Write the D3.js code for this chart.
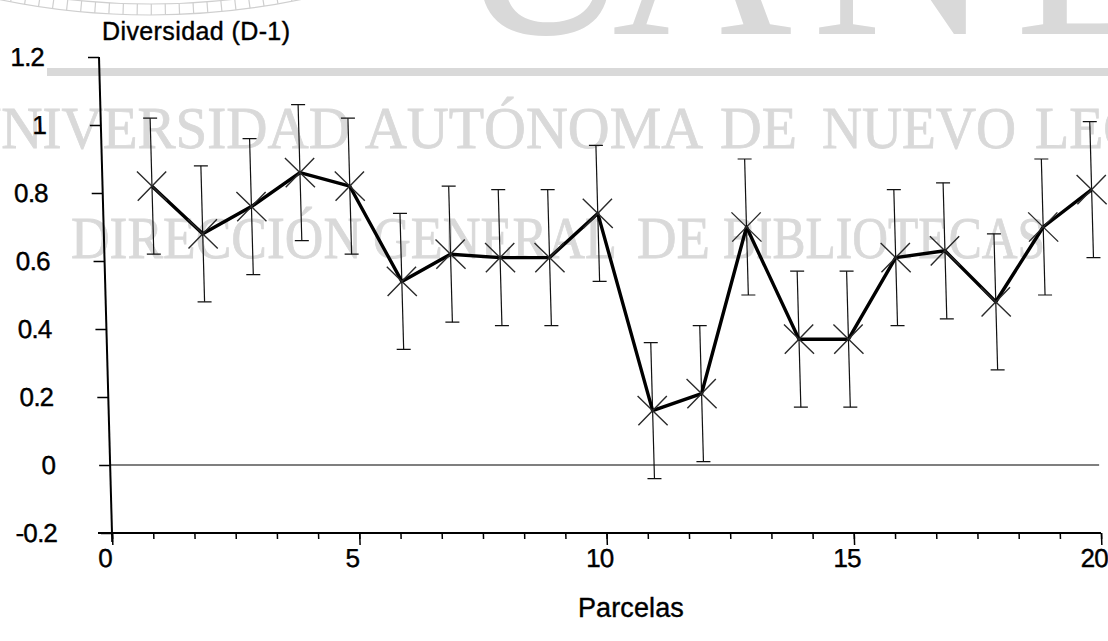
<!DOCTYPE html>
<html><head><meta charset="utf-8">
<script src="https://cdn.jsdelivr.net/npm/d3@7"></script>
<style>html,body{margin:0;padding:0;background:#fff;overflow:hidden}</style>
</head><body><svg id="c" width="1108" height="641"></svg>
<script>
// ---- data ----
const parcelas   = [1,2,3,4,5,6,7,8,9,10,11,12,13,14,15,16,17,18,19,20];
const diversidad = [0.82,0.68,0.76,0.86,0.82,0.54,0.62,0.61,0.61,0.74,0.16,0.21,0.70,0.37,0.37,0.61,0.63,0.48,0.70,0.81];
const errorEst   = [0.20,0.20,0.20,0.20,0.20,0.20,0.20,0.20,0.20,0.20,0.20,0.20,0.20,0.20,0.20,0.20,0.20,0.20,0.20,0.20];
const xTicks = [0,5,10,15,20];
const xTickLabels = ["0","5","10","15","20"];
const yTicks = [-0.2,0,0.2,0.4,0.6,0.8,1,1.2];
const yTickLabels = ["-0.2","0","0.2","0.4","0.6","0.8","1","1.2"];
const yTitle = "Diversidad (D-1)";
const xTitle = "Parcelas";
const wmLine1 = ["UNIVERSIDAD","AUTÓNOMA","DE","NUEVO","LEÓN"];
const wmLine2 = ["DIRECCIÓN","GENERAL","DE","BIBLIOTECAS"];
const wmBig = ["U","A","N","L"];

const svg = d3.select("#c");
const W = 1108, H = 641;

// ---- watermark (scan background) ----
const grey = "#d9d9d9";
const serif = "'Liberation Serif','Times New Roman',serif";
const wm = svg.append("g");
// seal ring at top-left
const sealC = [150, -722];
const seal = wm.append("g").attr("fill","none").attr("stroke","#cfcfcf").attr("stroke-width",1.2);
seal.append("circle").attr("cx",sealC[0]).attr("cy",sealC[1]).attr("r",737);
seal.append("circle").attr("cx",sealC[0]).attr("cy",sealC[1]).attr("r",726);
seal.selectAll("line").data(d3.range(-12,12.1,1.1)).join("line")
  .attr("x1",a=>sealC[0]+726*Math.sin(a*Math.PI/180)).attr("y1",a=>sealC[1]+726*Math.cos(a*Math.PI/180))
  .attr("x2",a=>sealC[0]+737*Math.sin(a*Math.PI/180)).attr("y2",a=>sealC[1]+737*Math.cos(a*Math.PI/180));
// big letters
const bigX = [455,612,812,1015];
wm.selectAll("text.big").data(wmBig).join("text").attr("class","big")
  .attr("x",(d,i)=>bigX[i]).attr("y",34)
  .attr("font-family",serif).attr("font-size",250)
  .attr("fill",grey).text(d=>d);
// band
wm.append("rect").attr("x",47).attr("y",68).attr("width",W-47).attr("height",8).attr("fill",grey);
// text lines
const l1x = [-40,365,720,822,1035], l1w = [390,338,77,194,149];
const l2x = [71,373,637,723], l2w = [291,244,73,322];
wm.selectAll("text.l1").data(wmLine1).join("text").attr("class","l1")
  .attr("x",(d,i)=>l1x[i]).attr("y",148).attr("textLength",(d,i)=>l1w[i]).attr("lengthAdjust","spacingAndGlyphs")
  .attr("font-family",serif).attr("font-size",60)
  .attr("fill",grey).attr("stroke",grey).attr("stroke-width",0.8).text(d=>d);
wm.selectAll("text.l2").data(wmLine2).join("text").attr("class","l2")
  .attr("x",(d,i)=>l2x[i]).attr("y",258).attr("textLength",(d,i)=>l2w[i]).attr("lengthAdjust","spacingAndGlyphs")
  .attr("font-family",serif).attr("font-size",60)
  .attr("fill",grey).attr("stroke",grey).attr("stroke-width",0.8).text(d=>d);

// ---- chart ----
const x = d3.scaleLinear().domain([0,20]).range([112,1101]);
const y = d3.scaleLinear().domain([-0.2,1.2]).range([533,57]);
const font = "'Liberation Sans',Arial,sans-serif";

// slight shear of the scanned page
const g = svg.append("g").attr("transform","translate(0,533) skewX(1.565) translate(0,-533)");

// zero line
g.append("line").attr("x1",x(0)).attr("x2",x(20)).attr("y1",y(0)).attr("y2",y(0))
  .attr("stroke","#555").attr("stroke-width",1.5);

// y axis
const yAxis = d3.axisLeft(y).tickValues(yTicks).tickSize(11).tickSizeOuter(0)
  .tickFormat((d,i)=>yTickLabels[i]).tickPadding(44);
const ya = g.append("g").attr("transform",`translate(${x(0)},0)`).call(yAxis);
ya.select(".domain").remove();
ya.append("line").attr("x1",0).attr("x2",0).attr("y1",y(1.2)).attr("y2",y(-0.2)+9).attr("stroke","#000").attr("stroke-width",2);
ya.selectAll(".tick line").attr("stroke","#000").attr("stroke-width",1.5);
ya.selectAll(".tick text").attr("font-family",font).attr("font-size",26).attr("fill","#000")
  .attr("stroke","#000").attr("stroke-width",0.4).attr("letter-spacing",-0.8);

// x axis
const xMinor = d3.range(0, 20.001, 5/6);
const xa = g.append("g").attr("transform",`translate(0,${y(-0.2)})`);
xa.append("line").attr("x1",x(0)-14).attr("x2",x(20)).attr("y1",0).attr("y2",0).attr("stroke","#000").attr("stroke-width",2);
xa.call(d3.axisBottom(x).tickValues(xMinor).tickSize(6).tickFormat(""))
  .call(s=>s.select(".domain").remove());
xa.selectAll(".tick line").attr("stroke","#000").attr("stroke-width",1.5);
const xMaj = g.append("g").attr("transform",`translate(0,${y(-0.2)})`)
  .call(d3.axisBottom(x).tickValues(xTicks).tickSize(12).tickFormat((d,i)=>xTickLabels[i]).tickPadding(4));
xMaj.select(".domain").remove();
xMaj.selectAll(".tick line").attr("stroke","#000").attr("stroke-width",1.5);
xMaj.selectAll(".tick text").attr("font-family",font).attr("font-size",26).attr("fill","#000")
  .attr("stroke","#000").attr("stroke-width",0.4).attr("letter-spacing",-0.8).attr("dx",-8);

// error bars
const eb = g.append("g").attr("stroke","#111").attr("stroke-width",1.2);
eb.selectAll("line.v").data(parcelas).join("line").attr("class","v")
  .attr("x1",d=>x(d)).attr("x2",d=>x(d))
  .attr("y1",(d,i)=>y(diversidad[i]+errorEst[i])).attr("y2",(d,i)=>y(diversidad[i]-errorEst[i]));
eb.selectAll("line.t").data(parcelas).join("line").attr("class","t")
  .attr("x1",d=>x(d)-7).attr("x2",d=>x(d)+7)
  .attr("y1",(d,i)=>y(diversidad[i]+errorEst[i])).attr("y2",(d,i)=>y(diversidad[i]+errorEst[i]));
eb.selectAll("line.b").data(parcelas).join("line").attr("class","b")
  .attr("x1",d=>x(d)-7).attr("x2",d=>x(d)+7)
  .attr("y1",(d,i)=>y(diversidad[i]-errorEst[i])).attr("y2",(d,i)=>y(diversidad[i]-errorEst[i]));

// line
g.append("path").datum(parcelas)
  .attr("d", d3.line().x(d=>x(d)).y((d,i)=>y(diversidad[i])))
  .attr("fill","none").attr("stroke","#000").attr("stroke-width",3.4).attr("stroke-linejoin","round");

// X markers
g.append("g").selectAll("path").data(parcelas).join("path")
  .attr("d", d3.symbol(d3.symbolX, 560))
  .attr("transform",(d,i)=>`translate(${x(d)},${y(diversidad[i])})`)
  .attr("fill","none").attr("stroke","#2a2a2a").attr("stroke-width",1.4);

// titles
svg.append("text").attr("x",102).attr("y",40).attr("font-family",font).attr("font-size",25)
  .attr("letter-spacing",0.4).attr("fill","#000").attr("stroke","#000").attr("stroke-width",0.4).text(yTitle);
svg.append("text").attr("x",578).attr("y",617).attr("font-family",font).attr("font-size",27)
  .attr("letter-spacing",0.1).attr("fill","#000").attr("stroke","#000").attr("stroke-width",0.4).text(xTitle);
</script></body></html>
